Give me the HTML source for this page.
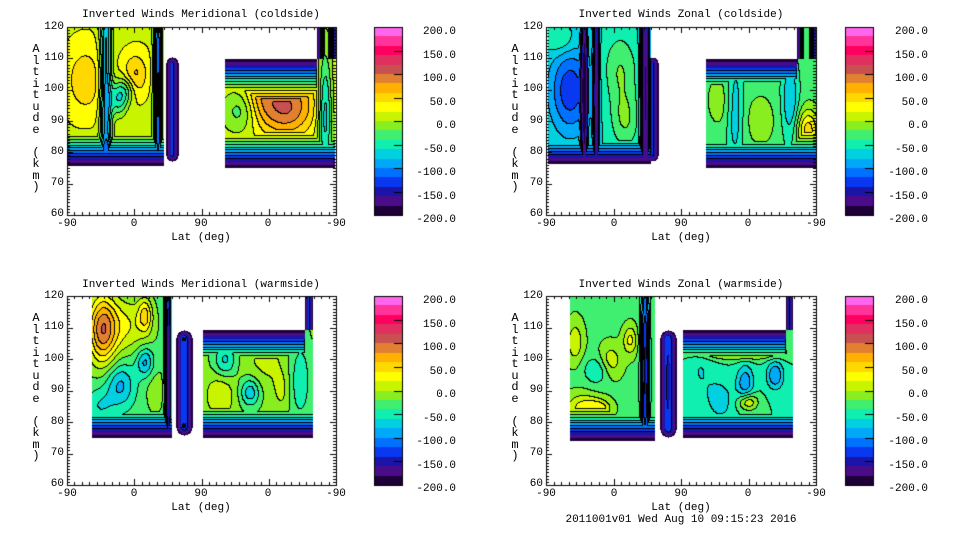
<!DOCTYPE html>
<html><head><meta charset="utf-8"><style>
body{margin:0;background:#fff;width:960px;height:540px;overflow:hidden;position:relative;font-family:"Liberation Mono",monospace;font-size:11px;color:#000}
canvas{position:absolute;left:0;top:0}
.t{position:absolute;white-space:nowrap;line-height:11px}
.c{transform:translateX(-50%)}
.r{text-align:right;width:40px}
.v{position:absolute;width:12px;text-align:center;line-height:11.5px;font-size:12px}
</style></head><body>
<canvas id="cv" width="960" height="540"></canvas>

<div class="t c" style="left:201px;top:10px">Inverted Winds Meridional (coldside)</div>
<div class="t c" style="left:681px;top:10px">Inverted Winds Zonal (coldside)</div>
<div class="t c" style="left:201px;top:280px">Inverted Winds Meridional (warmside)</div>
<div class="t c" style="left:681px;top:280px">Inverted Winds Zonal (warmside)</div>

<div class="v" style="left:30px;top:44px">A<br>l<br>t<br>i<br>t<br>u<br>d<br>e<br><br>(<br>k<br>m<br>)</div>
<div class="v" style="left:509px;top:44px">A<br>l<br>t<br>i<br>t<br>u<br>d<br>e<br><br>(<br>k<br>m<br>)</div>
<div class="v" style="left:30px;top:313px">A<br>l<br>t<br>i<br>t<br>u<br>d<br>e<br><br>(<br>k<br>m<br>)</div>
<div class="v" style="left:509px;top:313px">A<br>l<br>t<br>i<br>t<br>u<br>d<br>e<br><br>(<br>k<br>m<br>)</div>

<div class="t r" style="left:24px;top:22px">120</div><div class="t r" style="left:24px;top:53px">110</div><div class="t r" style="left:24px;top:84px">100</div><div class="t r" style="left:24px;top:116px">90</div><div class="t r" style="left:24px;top:147px">80</div><div class="t r" style="left:24px;top:178px">70</div><div class="t r" style="left:24px;top:209px">60</div>
<div class="t r" style="left:503px;top:22px">120</div><div class="t r" style="left:503px;top:53px">110</div><div class="t r" style="left:503px;top:84px">100</div><div class="t r" style="left:503px;top:116px">90</div><div class="t r" style="left:503px;top:147px">80</div><div class="t r" style="left:503px;top:178px">70</div><div class="t r" style="left:503px;top:209px">60</div>
<div class="t r" style="left:24px;top:291px">120</div><div class="t r" style="left:24px;top:322px">110</div><div class="t r" style="left:24px;top:354px">100</div><div class="t r" style="left:24px;top:385px">90</div><div class="t r" style="left:24px;top:417px">80</div><div class="t r" style="left:24px;top:448px">70</div><div class="t r" style="left:24px;top:479px">60</div>
<div class="t r" style="left:503px;top:291px">120</div><div class="t r" style="left:503px;top:322px">110</div><div class="t r" style="left:503px;top:354px">100</div><div class="t r" style="left:503px;top:385px">90</div><div class="t r" style="left:503px;top:417px">80</div><div class="t r" style="left:503px;top:448px">70</div><div class="t r" style="left:503px;top:479px">60</div>

<div class="t c" style="left:67px;top:219px">-90</div><div class="t c" style="left:134px;top:219px">0</div><div class="t c" style="left:201px;top:219px">90</div><div class="t c" style="left:268px;top:219px">0</div><div class="t c" style="left:336px;top:219px">-90</div>
<div class="t c" style="left:201px;top:233px">Lat (deg)</div>
<div class="t c" style="left:546px;top:219px">-90</div><div class="t c" style="left:614px;top:219px">0</div><div class="t c" style="left:681px;top:219px">90</div><div class="t c" style="left:748px;top:219px">0</div><div class="t c" style="left:816px;top:219px">-90</div>
<div class="t c" style="left:681px;top:233px">Lat (deg)</div>
<div class="t c" style="left:67px;top:489px">-90</div><div class="t c" style="left:134px;top:489px">0</div><div class="t c" style="left:201px;top:489px">90</div><div class="t c" style="left:268px;top:489px">0</div><div class="t c" style="left:336px;top:489px">-90</div>
<div class="t c" style="left:201px;top:503px">Lat (deg)</div>
<div class="t c" style="left:546px;top:489px">-90</div><div class="t c" style="left:614px;top:489px">0</div><div class="t c" style="left:681px;top:489px">90</div><div class="t c" style="left:748px;top:489px">0</div><div class="t c" style="left:816px;top:489px">-90</div>
<div class="t c" style="left:681px;top:503px">Lat (deg)</div>
<div class="t c" style="left:681px;top:515px">2011001v01 Wed Aug 10 09:15:23 2016</div>

<div style="position:absolute;left:408px;top:21px;width:48px;text-align:right;line-height:23.5px">200.0<br>150.0<br>100.0<br>50.0<br>0.0<br>-50.0<br>-100.0<br>-150.0<br>-200.0</div>
<div style="position:absolute;left:880px;top:21px;width:48px;text-align:right;line-height:23.5px">200.0<br>150.0<br>100.0<br>50.0<br>0.0<br>-50.0<br>-100.0<br>-150.0<br>-200.0</div>
<div style="position:absolute;left:408px;top:290px;width:48px;text-align:right;line-height:23.5px">200.0<br>150.0<br>100.0<br>50.0<br>0.0<br>-50.0<br>-100.0<br>-150.0<br>-200.0</div>
<div style="position:absolute;left:880px;top:290px;width:48px;text-align:right;line-height:23.5px">200.0<br>150.0<br>100.0<br>50.0<br>0.0<br>-50.0<br>-100.0<br>-150.0<br>-200.0</div>

<script>
var C=["#1e0038","#4a0c88","#1a14a8","#0838f0","#0070ff","#00a8f8","#00d0e0","#10eeb0","#40ee70","#88ee20","#c8f400","#ffff00","#ffd800","#ffb000","#e08030","#c85050","#e03060","#ff0060","#ff3399","#ff66ee"];
var cv=document.getElementById('cv'),g=cv.getContext('2d');
var P=[
 {x0:67,y0:27,x1:336,y1:215,R:[
  {x0:68,x1:163,y0:27,y1:165,b:15,k:[[85,80,40,14,25],[106,95,-110,4,120],[133,80,30,8,15],[137,70,25,10,15],[118,98,-70,6,12],[127,90,-50,6,10],[95,150,-40,20,8],[158,90,-140,3,100]]},
  {x0:166,x1:178,y0:57,y1:161,oval:1,b:-90,k:[[172,110,-40,2,60]]},
  {x0:225,x1:334,y0:59,y1:167,top:27,col:[317,336],b:10,k:[[285,110,75,20,20],[283,85,30,30,25],[240,110,-45,12,15],[325,110,-90,5,40],[260,90,30,10,20]]}]},
 {x0:546,y0:27,x1:816,y1:215,R:[
  {x0:548,x1:650,y0:27,y1:163,b:-60,k:[[570,90,-75,14,30],[584,95,-120,2,120],[596,95,-110,2,120],[620,70,40,12,25],[625,120,40,10,20],[560,40,30,10,10],[645,95,-130,3,100]]},
  {x0:647,x1:658,y0:57,y1:161,oval:1,b:-90,k:[]},
  {x0:706,x1:816,y0:59,y1:167,top:27,col:[797,816],b:-30,k:[[735,110,-45,6,40],[790,100,-50,6,30],[808,130,80,8,15],[760,120,20,12,20],[720,100,20,10,20]]}]},
 {x0:67,y0:296,x1:336,y1:485,R:[
  {x0:92,x1:171,y0:296,y1:437,b:-30,k:[[102,330,110,10,25],[125,325,50,18,20],[145,315,60,5,12],[145,362,-60,6,10],[120,385,-55,10,15],[100,405,-30,10,12],[155,390,20,8,20],[168,370,-150,2,80]]},
  {x0:176,x1:192,y0:330,y1:435,oval:1,b:-95,k:[[184,382,-40,2,50]]},
  {x0:203,x1:312,y0:330,y1:437,top:296,col:[305,312],b:-15,k:[[220,395,35,10,15],[225,360,-50,8,12],[250,392,-60,7,10],[265,360,20,15,20],[300,380,-40,8,30],[282,390,20,6,15]]}]},
 {x0:546,y0:296,x1:816,y1:485,R:[
  {x0:570,x1:654,y0:296,y1:440,b:-25,k:[[583,408,55,12,10],[600,408,45,8,6],[610,362,45,8,12],[630,340,50,5,10],[575,342,40,6,15],[598,370,-40,10,10],[645,370,-120,3,80]]},
  {x0:660,x1:676,y0:330,y1:437,oval:1,b:-100,k:[[668,382,-50,2,40]]},
  {x0:683,x1:792,y0:330,y1:437,top:296,col:[786,792],b:-40,k:[[740,352,70,30,5],[745,382,-55,6,12],[775,375,-60,6,10],[748,402,60,7,6],[700,370,-20,10,20],[720,400,-30,10,15]]}]}
];
function val(R,x,y){
 var inCol=R.col&&x>=R.col[0]&&x<=R.col[1]&&y>=R.top&&y<R.y0;
 if(!inCol&&(x<R.x0||x>R.x1||y<R.y0||y>R.y1))return null;
 var v=R.b;
 for(var i=0;i<R.k.length;i++){var q=R.k[i];var dx=(x-q[0])/q[3],dy=(y-q[1])/q[4];v+=q[2]*Math.exp(-(dx*dx+dy*dy)/2);}
 var d;
 if(inCol){d=Math.min(x-R.col[0],R.col[1]-x);return Math.min(v,-200+d*25);}
 if(R.oval){var cx=(R.x0+R.x1)/2,r=(R.x1-R.x0)/2;var yy=Math.max(R.y0+r,Math.min(R.y1-r,y));var dd=Math.hypot(x-cx,y-yy);if(dd>r)return null;d=r-dd;return Math.min(v,-200+d*12);}
 var db=R.y1-y,dt=y-R.y0;
 if(R.y0<=28||R.y0==296)dt=99;
 if(R.col&&x>=R.col[0])dt=99;
 d=Math.min(db,dt);
 return Math.min(v,-200+d*7);
}
P.forEach(function(p){
 var W=p.x1-p.x0,H=p.y1-p.y0,B=[];
 for(var y=0;y<=H;y++){B[y]=[];for(var x=0;x<=W;x++){var X=p.x0+x,Y=p.y0+y,b=-1;
  for(var r=0;r<p.R.length;r++){var v=val(p.R[r],X,Y);if(v!==null){b=Math.max(0,Math.min(19,Math.floor((v+200)/20)));break;}}
  B[y][x]=b;}}
 for(var y=0;y<=H;y++)for(var x=0;x<=W;x++){var b=B[y][x];if(b<0)continue;
  var e=(x<W&&B[y][x+1]>=0&&B[y][x+1]!=b)||(y<H&&B[y+1][x]>=0&&B[y+1][x]!=b);
  if(e&&b<3)e=false;
  g.fillStyle=e?"#000":C[b];g.fillRect(p.x0+x,p.y0+y,1,1);}
 g.strokeStyle="#000";g.lineWidth=1;g.strokeRect(p.x0+0.5,p.y0+0.5,W,H);
 g.beginPath();
 for(var i=0;i<=4;i++){var x=Math.round(p.x0+i*W/4)+0.5;g.moveTo(x,p.y1);g.lineTo(x,p.y1-6);g.moveTo(x,p.y0);g.lineTo(x,p.y0+6);}
 for(var i=0;i<=36;i++){var x=Math.round(p.x0+i*W/36)+0.5;g.moveTo(x,p.y1);g.lineTo(x,p.y1-3);g.moveTo(x,p.y0);g.lineTo(x,p.y0+3);}
 for(var i=0;i<=60;i++){var y=Math.round(p.y0+i*H/60)+0.5,L=(i%10==0)?6:3;g.moveTo(p.x0,y);g.lineTo(p.x0+L,y);g.moveTo(p.x1,y);g.lineTo(p.x1-L,y);}
 g.stroke();
 var cx=p.x0<300?374:845;
 for(var i=0;i<20;i++){g.fillStyle=C[19-i];var a=Math.round(p.y0+i*H/20),b2=Math.round(p.y0+(i+1)*H/20);g.fillRect(cx,a,28,b2-a);}
 g.strokeRect(cx+0.5,p.y0+0.5,28,H);
 g.beginPath();for(var i=1;i<8;i++){var y=Math.round(p.y0+i*H/8)+0.5;g.moveTo(cx+28,y);g.lineTo(cx+20,y);}g.stroke();
});
</script>
</body></html>
